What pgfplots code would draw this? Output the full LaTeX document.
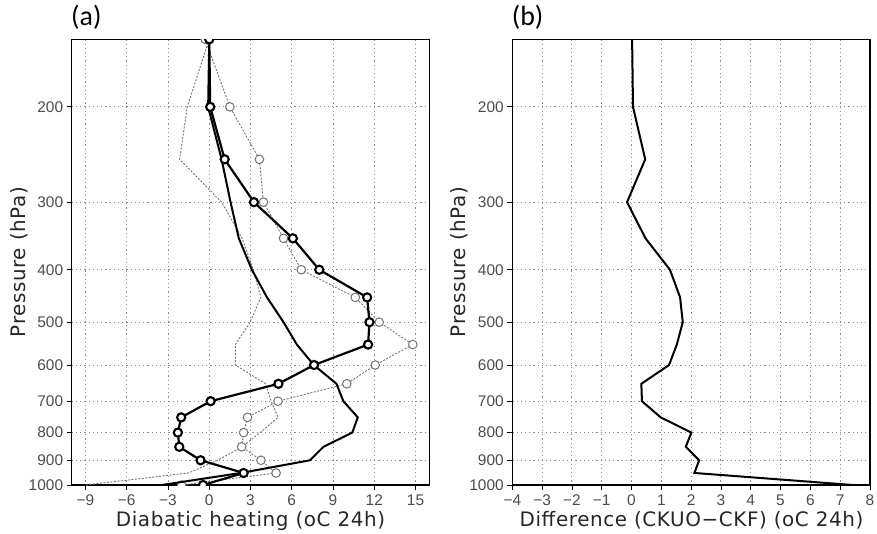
\documentclass[border=0pt]{standalone}
\usepackage{pgfplots}
\pgfplotsset{compat=1.18}
\usepackage{fontspec}
\setmainfont{Liberation Sans}
\newfontfamily\labfont[LetterSpace=3]{DejaVu Sans}
\newfontfamily\panfont{Carlito}
\definecolor{tickgray}{gray}{0.3}
\definecolor{gridgray}{gray}{0.55}
\definecolor{sergray}{gray}{0.45}

\pgfplotstableread{
p v
150 0
200 0.07
250 1.12
300 3.25
350 6.08
400 8.0
450 11.48
500 11.65
550 11.55
600 7.62
650 5.03
700 0.1
750 -2.04
800 -2.28
850 -2.18
900 -0.63
950 2.5
1000 -0.45
}\serA
\pgfplotstableread{
p v
150 0
200 -0.08
250 0.9
300 1.55
350 2.15
400 3.1
450 4.2
500 5.4
550 6.37
600 7.6
650 9.25
700 9.75
750 10.8
800 10.4
850 8.3
900 7.33
950 2.3
1000 -3.45
}\serB
\pgfplotstableread{
p v
150 -0.3
200 1.5
250 3.65
300 3.94
350 5.4
400 6.69
450 10.62
500 12.36
550 14.8
600 12.07
650 10.0
700 5.0
750 2.78
800 2.5
850 2.36
900 3.76
950 4.86
1000 -2.0
}\serC
\pgfplotstableread{
p v
150 0
200 -1.6
250 -2.15
300 0.9
350 2.4
400 3.2
450 3.75
500 2.97
550 1.9
600 1.9
650 4.1
700 4.5
750 5.0
800 3.7
850 2.4
900 0.6
950 -1.5
1000 -9.0
}\serD
\pgfplotstableread{
p v
150 0.02
200 0.05
250 0.46
300 -0.15
350 0.47
400 1.29
450 1.63
500 1.72
550 1.52
600 1.26
650 0.33
700 0.35
750 0.98
800 2.01
850 1.82
900 2.27
950 2.11
1000 7.43
}\serE

\pgfplotsset{
  every axis/.append style={
    scale only axis, width=357.6bp, height=445.7bp,
    anchor=south west,
    ymode=log, y dir=reverse, ymin=150, ymax=1000,
    ytick={200,300,400,500,600,700,800,900,1000},
    yticklabels={200,300,400,500,600,700,800,900,1000},
    yminorticks=false, xminorticks=false,
    axis line style={line width=1.3bp},
    tick align=outside, tick pos=left,
    major tick length=5bp,
    every tick/.style={line width=0.8bp, black},
    grid=major,
    major grid style={dash pattern=on 1.2bp off 3bp, line width=0.9bp, gridgray},
    ticklabel style={font=\fontsize{15.5}{15.5}\selectfont, text=tickgray, inner sep=0pt},
    yticklabel style={anchor=east, xshift=-3.4bp},
    xticklabel style={anchor=north, yshift=-5bp},
    /pgf/number format/assume math mode=true,
    clip marker paths=true,
  },
  lineA/.style={black, line width=2.2bp, mark=*, mark size=4.1bp,
    mark options={fill=white, draw=black, line width=2.1bp, solid}},
  lineB/.style={black, line width=2bp, no marks},
  lineC/.style={sergray, line width=0.9bp, dash pattern=on 2bp off 1.5bp, mark=*, mark size=4.3bp,
    mark options={fill=white, draw=sergray, line width=1bp, solid}},
  lineD/.style={sergray, line width=0.9bp, dash pattern=on 2bp off 1.5bp, no marks},
}

\begin{document}
\begin{tikzpicture}[x=1bp,y=1bp]
\useasboundingbox (0,0) rectangle (877,534);

\begin{axis}[at={(71.7bp,49bp)},
  xmin=-10, xmax=16,
  xtick={-9,-6,-3,0,3,6,9,12,15},
  xticklabels={−9,−6,−3,0,3,6,9,12,15}]
  \addplot[lineD] table[x=v,y=p] {\serD};
  \addplot[lineC] table[x=v,y=p] {\serC};
  \addplot[lineB] table[x=v,y=p] {\serB};
  \addplot[lineA] table[x=v,y=p] {\serA};
\end{axis}

\begin{axis}[at={(512.3bp,49bp)},
  xmin=-4, xmax=8,
  xtick={-4,-3,-2,-1,0,1,2,3,4,5,6,7,8},
  xticklabels={−4,−3,−2,−1,0,1,2,3,4,5,6,7,8}]
  \addplot[black, line width=2bp, no marks] table[x=v,y=p] {\serE};
\end{axis}

\node[anchor=base, font=\labfont\fontsize{20}{20}\selectfont, text=black!85] at (250.5,7) {Diabatic heating (oC 24h)};
\node[anchor=base, font=\labfont\fontsize{20}{20}\selectfont, text=black!85] at (691.5,7) {Difference (CKUO−CKF) (oC 24h)};
\node[anchor=base, rotate=90, font=\labfont\fontsize{20}{20}\selectfont, text=black!85] at (25,272) {Pressure (hPa)};
\node[anchor=base, rotate=90, font=\labfont\fontsize{20}{20}\selectfont, text=black!85] at (465.6,272) {Pressure (hPa)};
\node[anchor=base west, inner sep=0pt, font=\panfont\fontsize{28}{28}\selectfont] at (71,508) {(a)};
\node[anchor=base west, inner sep=0pt, font=\panfont\fontsize{28}{28}\selectfont] at (511.6,508) {(b)};
\end{tikzpicture}
\end{document}
